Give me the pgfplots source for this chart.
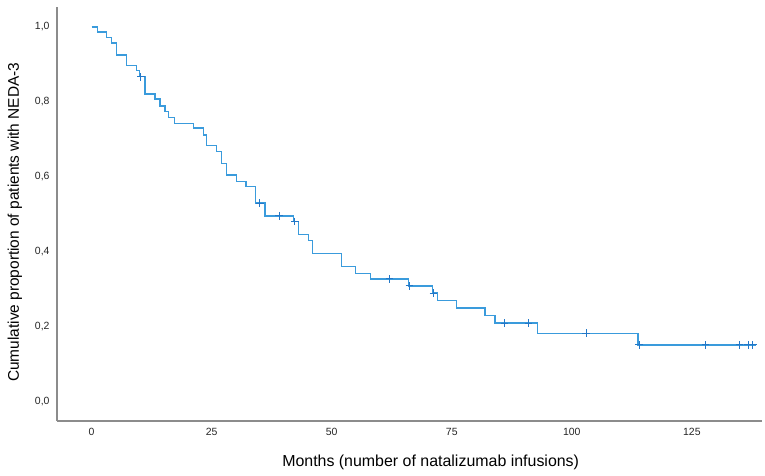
\documentclass[border=0pt]{standalone}
\usepackage{pgfplots}
\pgfplotsset{compat=1.18}
\usepackage{fontspec}
\setmainfont{Liberation Sans}
\definecolor{kmblue}{RGB}{58,155,220}
\definecolor{kmdark}{RGB}{35,120,200}
\definecolor{axgray}{RGB}{140,140,140}
\begin{document}
\begin{tikzpicture}[x=1bp,y=1bp]
\useasboundingbox (0,0) rectangle (765,476);
\begin{axis}[
  at={(57bp,55bp)}, anchor=south west,
  scale only axis, width=705bp, height=414bp,
  xmin=-7.2, xmax=139.6, ymin=-0.051, ymax=1.053,
  axis x line*=bottom, axis y line*=left,
  axis line style={axgray, line width=1.5bp},
  xtick={0,25,50,75,100,125},
  ytick={0,0.2,0.4,0.6,0.8,1},
  major tick length=0,
  /pgf/number format/assume math mode=true,
  tick label style={font=\fontsize{10.5}{12}\selectfont, text=black!85},
  x tick label style={anchor=center, yshift=-11bp},
  y tick label style={anchor=east, xshift=-4bp,
    /pgf/number format/.cd, fixed, fixed zerofill, precision=1, use comma},
  xlabel={Months (number of natalizumab infusions)},
  xlabel style={at={(axis description cs:0.53,-0.099)}, anchor=center, font=\fontsize{16}{19}\selectfont},
  ylabel={Cumulative proportion of patients with NEDA-3},
  ylabel style={at={(axis description cs:-0.0596,0.48)}, anchor=center, font=\fontsize{15.5}{18}\selectfont},
  clip=false,
]
\addplot[kmblue, line width=1.3bp, const plot, mark=none] coordinates {
(0,1.0) (1.17,0.986) (3.13,0.971) (4.17,0.957) (5.21,0.925) (7.29,0.897)
(9.38,0.883) (9.96,0.867) (11.10,0.821) (13.19,0.808) (14.23,0.789)
(15.27,0.774) (15.96,0.759) (17.21,0.743) (21.17,0.730) (23.25,0.712)
(23.96,0.683) (26.04,0.667) (27.08,0.636) (28.13,0.605) (30.21,0.587)
(32.15,0.574) (34.17,0.530) (36.10,0.496) (42.0,0.481) (43.04,0.447)
(45.13,0.430) (46.04,0.395) (52.08,0.361) (55.0,0.343) (58.13,0.328)
(65.96,0.309) (70.96,0.290) (72.0,0.270) (76.0,0.250) (81.94,0.230)
(84.02,0.210) (92.83,0.183) (113.75,0.152) (138.4,0.152)
};
\addplot[kmdark, only marks, mark=+, mark size=3.8bp, mark options={line width=1bp}] coordinates {
(10.27,0.867) (35.06,0.530) (39.08,0.496) (42.35,0.481) (62.0,0.328)
(66.2,0.309) (71.2,0.290) (86.0,0.210) (91.0,0.210) (103.0,0.183)
(114.0,0.152) (127.8,0.152) (134.9,0.152) (136.7,0.152) (137.7,0.152)
};
\end{axis}
\end{tikzpicture}
\end{document}
